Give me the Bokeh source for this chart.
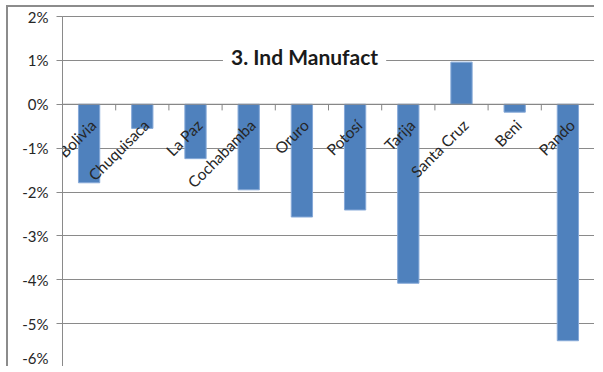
import math
from bokeh.plotting import figure
from bokeh.models import FactorRange, Range1d, FixedTicker, Label, LabelSet, ColumnDataSource
from bokeh.core.properties import value
from bokeh.embed import file_html
from bokeh.resources import INLINE

categories = ["Bolivia", "Chuquisaca", "La Paz", "Cochabamba", "Oruro", "Potosí",
              "Tarija", "Santa Cruz", "Beni", "Pando"]
values = [-1.79, -0.55, -1.24, -1.95, -2.57, -2.41, -4.08, 0.96, -0.18, -5.39]
y_ticks = [-6, -5, -4, -3, -2, -1, 0, 1, 2]
title_text = "3. Ind Manufact"

FONT = "Lato"
GRID = "#8a8a8a"

p = figure(width=588, height=361, x_range=FactorRange(*categories),
           y_range=Range1d(-6, 2), x_axis_location=None,
           output_backend="svg", toolbar_location=None,
           min_border_left=54, min_border_top=9, min_border_right=2, min_border_bottom=1,
           styles={"border-left": "2px solid #8c8c8c", "border-top": "2px solid #8c8c8c",
                   "margin-left": "6px", "margin-top": "5px"})

p.outline_line_color = GRID
p.xgrid.grid_line_color = None
p.ygrid.grid_line_color = GRID
p.ygrid.ticker = FixedTicker(ticks=y_ticks)

ya = p.yaxis[0]
ya.ticker = FixedTicker(ticks=y_ticks)
ya.major_label_overrides = {t: f"{t}%" for t in y_ticks}
ya.axis_line_color = GRID
ya.major_tick_line_color = GRID
ya.major_tick_out = 6
ya.major_tick_in = 0
ya.minor_tick_line_color = None
ya.major_label_text_font = FONT
ya.major_label_text_font_size = "15px"
ya.major_label_text_color = "#262626"
ya.major_label_standoff = 8

src = ColumnDataSource(dict(cat=categories, val=values, zero=[0] * len(categories)))
p.vbar(x="cat", top="val", bottom=0, width=0.4, source=src,
       fill_color="#4F81BD", line_color="#86A9D8", line_width=1)

# zero axis line and category boundary ticks
p.line(x=[0, len(categories)], y=[0, 0], line_color="#868686", line_width=1)
bounds = list(range(len(categories) + 1))
p.segment(x0=bounds, x1=bounds, y0=[0] * len(bounds), y1=[-0.14] * len(bounds),
          line_color="#868686", line_width=1)

# rotated category labels just below the zero line (not clipped to the frame)
labels = LabelSet(x="cat", y="zero", text="cat", source=src, angle=math.pi / 4,
                  text_align="right", text_baseline="middle", x_offset=4, y_offset=-18,
                  text_font=value(FONT), text_font_size=value("15.5px"),
                  text_color="#262626")
p.add_layout(labels)

title = Label(x=4.55, y=1.08, text=title_text, text_align="center",
              text_baseline="middle", text_font=FONT, text_font_size="21px",
              text_font_style="bold", text_color="#1a1a1a",
              background_fill_color="white", padding=8)
p.add_layout(title)

open("out.html", "w").write(file_html(p, INLINE))
